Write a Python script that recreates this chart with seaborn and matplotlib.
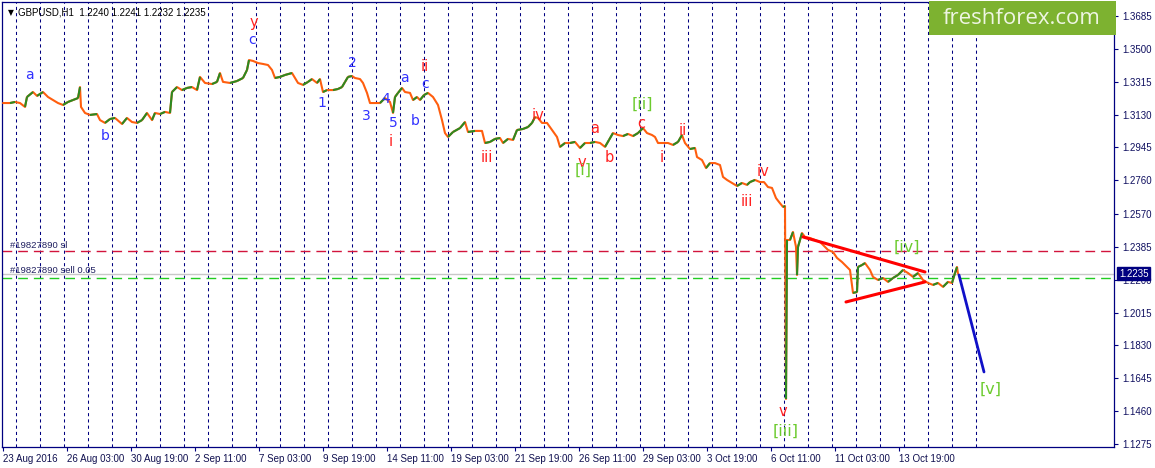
import numpy as np
import pandas as pd
import matplotlib
matplotlib.use("Agg")
import matplotlib.pyplot as plt
import seaborn as sns
from matplotlib.collections import LineCollection
from matplotlib.patches import Rectangle
import matplotlib.transforms as mtransforms

# ---------------- data ----------------
# hour index (H1 bars since first bar) and close prices
hours = [0, 7, 12, 17, 22, 24, 30, 34, 40, 45, 50, 55, 60, 65, 70, 75, 77, 78, 82, 87, 94, 97,
         102, 107, 112, 119, 124, 129, 134, 139, 144, 149, 152, 157, 162, 167, 169, 174, 179, 184,
         189, 194, 197, 202, 209, 214, 217, 220, 227, 234, 240, 244, 246, 250, 255, 260, 265, 269,
         272, 277, 282, 289, 292, 295, 300, 305, 309, 314, 317, 320, 324, 330, 335, 339, 342, 345,
         349, 352, 357, 360, 364, 367, 372, 377, 382, 387, 390, 392, 395, 399, 402, 407, 410, 414,
         417, 421, 425, 430, 435, 439, 442, 445, 450, 457, 462, 465, 472, 479, 482, 487, 492, 497,
         500, 505, 510, 514, 520, 525, 529, 532, 535, 539, 544, 549, 554, 557, 562, 567, 572, 577,
         582, 587, 592, 597, 602, 606, 610, 615, 620, 625, 630, 635, 640, 644, 649, 652, 655, 660,
         665, 670, 675, 679, 682, 687, 692, 694, 699, 703, 707, 712, 717, 720, 724, 729, 734, 739,
         744, 747, 752, 757, 761, 765, 769, 773, 776, 780, 782, 783, 784, 787, 790, 793, 794, 795,
         799, 802, 807, 812, 817, 820, 825, 830, 834, 839, 842, 847, 850, 854, 855, 859, 862, 867,
         870, 875, 880, 885, 890, 895, 900, 905, 910, 915, 920, 925, 930, 935, 940, 945, 949, 952,
         954, 955]
prices = [1.3195, 1.3195, 1.3201, 1.3195, 1.3173, 1.3229, 1.3257, 1.3235, 1.3257, 1.3229, 1.3212,
          1.3195, 1.3184, 1.3201, 1.3212, 1.3223, 1.3285, 1.3173, 1.3139, 1.3128, 1.3133, 1.3099,
          1.3083, 1.3105, 1.3111, 1.3077, 1.3111, 1.3088, 1.3083, 1.3099, 1.3139, 1.3099, 1.3139,
          1.3133, 1.3145, 1.3139, 1.3257, 1.3285, 1.3268, 1.3280, 1.3285, 1.3268, 1.3342, 1.3308,
          1.3302, 1.3314, 1.3364, 1.3314, 1.3308, 1.3319, 1.3336, 1.3381, 1.3437, 1.3432, 1.3420,
          1.3415, 1.3409, 1.3381, 1.3336, 1.3342, 1.3353, 1.3364, 1.3336, 1.3308, 1.3297, 1.3314,
          1.3330, 1.3308, 1.3330, 1.3257, 1.3268, 1.3268, 1.3274, 1.3285, 1.3314, 1.3342, 1.3347,
          1.3336, 1.3330, 1.3308, 1.3252, 1.3195, 1.3195, 1.3195, 1.3223, 1.3201, 1.3139, 1.3229,
          1.3252, 1.3280, 1.3257, 1.3252, 1.3212, 1.3229, 1.3212, 1.3240, 1.3252, 1.3229, 1.3184,
          1.3099, 1.3026, 1.3004, 1.3032, 1.3054, 1.3088, 1.3032, 1.3038, 1.3038, 1.2970, 1.2976,
          1.2993, 1.2998, 1.2970, 1.2993, 1.2987, 1.3043, 1.3049, 1.3060, 1.3083, 1.3116, 1.3111,
          1.3083, 1.3083, 1.3043, 1.3004, 1.2948, 1.2970, 1.2970, 1.2976, 1.2942, 1.2970, 1.2970,
          1.2976, 1.2970, 1.2948, 1.2987, 1.3026, 1.3015, 1.3009, 1.3021, 1.3009, 1.3026, 1.3054,
          1.3026, 1.3015, 1.3004, 1.2970, 1.2970, 1.2970, 1.2959, 1.2976, 1.3015, 1.2970, 1.2936,
          1.2942, 1.2891, 1.2874, 1.2829, 1.2857, 1.2857, 1.2846, 1.2779, 1.2762, 1.2745, 1.2728,
          1.2745, 1.2734, 1.2750, 1.2762, 1.2750, 1.2750, 1.2722, 1.2717, 1.2660, 1.2638, 1.2610,
          1.2615, 1.1529, 1.2424, 1.2424, 1.2469, 1.2385, 1.2227, 1.2385, 1.2463, 1.2441, 1.2435,
          1.2424, 1.2413, 1.2396, 1.2368, 1.2356, 1.2323, 1.2300, 1.2283, 1.2255, 1.2126, 1.2131,
          1.2272, 1.2283, 1.2294, 1.2255, 1.2216, 1.2199, 1.2210, 1.2188, 1.2210, 1.2227, 1.2255,
          1.2238, 1.2216, 1.2238, 1.2199, 1.2182, 1.2171, 1.2182, 1.2160, 1.2188, 1.2182, 1.2238,
          1.2272, 1.2235]

# triangle and projection
tri_upper_h = [800, 922]
tri_upper_p = [1.2441, 1.2244]
tri_lower_h = [843, 922]
tri_lower_p = [1.2075, 1.2188]
proj_h = [956, 981]
proj_p = [1.2227, 1.1681]

# order levels
sl_price = 1.2362
sell_price = 1.2210
bid_price = 1.2235

# axis labels
ytick_vals = [1.3685, 1.3500, 1.3315, 1.3130, 1.2945, 1.2760, 1.2570, 1.2385, 1.2200, 1.2015,
              1.1830, 1.1645, 1.1460, 1.1275]
xtick_hours = [0, 64, 128, 192, 256, 320, 384, 448, 512, 576, 640, 704, 768, 832, 896]
xtick_labels = ["23 Aug 2016", "26 Aug 03:00", "30 Aug 19:00", "2 Sep 11:00", "7 Sep 03:00",
                "9 Sep 19:00", "14 Sep 11:00", "19 Sep 03:00", "21 Sep 19:00", "26 Sep 11:00",
                "29 Sep 03:00", "3 Oct 19:00", "6 Oct 11:00", "11 Oct 03:00", "13 Oct 19:00"]
day_sep_hours = list(range(13, 974, 24))

# wave labels
blue_txt = ["a", "b", "c", "1", "2", "3", "4", "5", "a", "b", "c"]
blue_h = [26, 102, 249, 319, 349, 363, 383, 390, 401, 412, 422]
blue_p = [1.3353, 1.3009, 1.3550, 1.3195, 1.3420, 1.3122, 1.3218, 1.3083, 1.3336, 1.3094, 1.3302]
red_txt = ["y", "i", "ii", "iii", "iv", "v", "a", "b", "c", "i", "ii", "iv", "iii", "v"]
red_h = [251, 388, 422, 484, 535, 579, 592, 606, 638, 659, 680, 760, 744, 780]
red_p = [1.3651, 1.2976, 1.3398, 1.2886, 1.3122, 1.2863, 1.3049, 1.2886, 1.3077, 1.2886, 1.3043,
         1.2807, 1.2638, 1.1456]
green_txt = ["[i]", "[ii]", "[iii]", "[iv]", "[v]"]
green_h = [580, 639, 783, 904, 988]
green_p = [1.2818, 1.3190, 1.1349, 1.2385, 1.1585]

# ---------------- style ----------------
sns.set_style("white")
plt.rcParams['font.family'] = ['Liberation Sans', 'DejaVu Sans']

NAVY = "#000080"
ORANGE = "#FF5E0E"
GREEN = "#2A8A22"

fig = plt.figure(figsize=(11.55, 4.68), dpi=100)
fig.patch.set_facecolor("white")
ax = fig.add_axes([2 / 1155, 21 / 468, 1112 / 1155, 445 / 468])
ax.set_facecolor("white")

ax.set_xlim(-1, 1111)
ax.set_ylim(1.12585, 1.37638)

# day separators
for h in day_sep_hours:
    ax.axvline(h, color=NAVY, lw=0.75, ls=(0, (3, 3)), zorder=1)

# order lines
ax.axhline(bid_price, color="#C8C8C8", lw=1.0, zorder=1.5)
ax.axhline(sl_price, color="#D2143C", lw=1.0, ls=(0, (7, 4.3)), zorder=1.6)
ax.axhline(sell_price, color="#22CC22", lw=1.0, ls=(0, (7, 4.3)), zorder=1.6)

# price path
df = pd.DataFrame({"hour": hours, "price": prices})
sns.lineplot(data=df, x="hour", y="price", color=ORANGE, lw=1.5, ax=ax, zorder=3,
             estimator=None, sort=False)
pts = np.column_stack([df["hour"].values, df["price"].values])
segs = np.stack([pts[:-1], pts[1:]], axis=1)
up = df["price"].values[1:] > df["price"].values[:-1]
ax.add_collection(LineCollection(segs[up], colors=GREEN, linewidths=1.5, zorder=3.2))

# triangle & projection
ax.plot(tri_upper_h, tri_upper_p, color="#FF0000", lw=2.2, zorder=4)
ax.plot(tri_lower_h, tri_lower_p, color="#FF0000", lw=2.2, zorder=4)
ax.plot(proj_h, proj_p, color="#1010C8", lw=2.0, zorder=4)

# wave labels
for t, h, p in zip(blue_txt, blue_h, blue_p):
    ax.text(h, p, t, color="#3030FF", fontsize=10, ha="center", va="center", zorder=5,
            family="DejaVu Sans")
for t, h, p in zip(red_txt, red_h, red_p):
    ax.text(h, p, t, color="#FF2020", fontsize=10.5, ha="center", va="center", zorder=5,
            family="DejaVu Sans")
for t, h, p in zip(green_txt, green_h, green_p):
    ax.text(h, p, t, color="#6CCB2E", fontsize=11.5, ha="center", va="center", zorder=5,
            family="DejaVu Sans")

# order labels
ax.text(7, sl_price + 0.0030, "#19827890 sl", fontsize=6.8, color="#202060", va="center",
        ha="left", zorder=5)
ax.text(7, sell_price + 0.0040, "#19827890 sell 0.05", fontsize=6.8, color="#202060",
        va="center", ha="left", zorder=5)

# header
ax.text(5, 1.3705, "\u25BC", fontsize=5.5, color="black", va="center", ha="left",
        family="DejaVu Sans")
ax.text(15, 1.3705, "GBPUSD,H1  1.2240 1.2241 1.2232 1.2235", fontsize=7, color="black",
        va="center", ha="left")

# axes styling
for s in ax.spines.values():
    s.set_color(NAVY)
    s.set_linewidth(0.9)
ax.yaxis.tick_right()
ax.set_yticks(ytick_vals)
ax.set_yticklabels([f"{v:.4f}" for v in ytick_vals])
ax.set_xticks(xtick_hours)
ax.set_xticklabels(xtick_labels, ha="left")
ax.tick_params(axis="y", right=True, left=False, length=3, width=0.8, color=NAVY,
               labelsize=7, labelcolor="#101060", pad=3)
ax.tick_params(axis="x", bottom=True, length=3, width=0.8, color=NAVY, labelsize=7,
               labelcolor="#101050", pad=2)
ax.set_xlabel("")
ax.set_ylabel("")
ax.grid(False)

# bid price box
trans = mtransforms.blended_transform_factory(ax.transAxes, ax.transData)
ax.text(1.0045, bid_price, f"{bid_price:.4f}", transform=trans, fontsize=7, color="white",
        va="center", ha="left", zorder=10, clip_on=False,
        bbox=dict(boxstyle="square,pad=0.2", fc=NAVY, ec=NAVY))

# logo
fig.patches.append(Rectangle((929 / 1155, (468 - 35) / 468), 187 / 1155, 34 / 468,
                             transform=fig.transFigure, fc="#7DB230", ec="none", zorder=20))
fig.text(1022 / 1155, (468 - 19) / 468, "freshforex.com", fontsize=16, color="#EEF5E2",
         ha="center", va="center", family="Open Sans", zorder=21)

fig.savefig("out.png", dpi=100)
